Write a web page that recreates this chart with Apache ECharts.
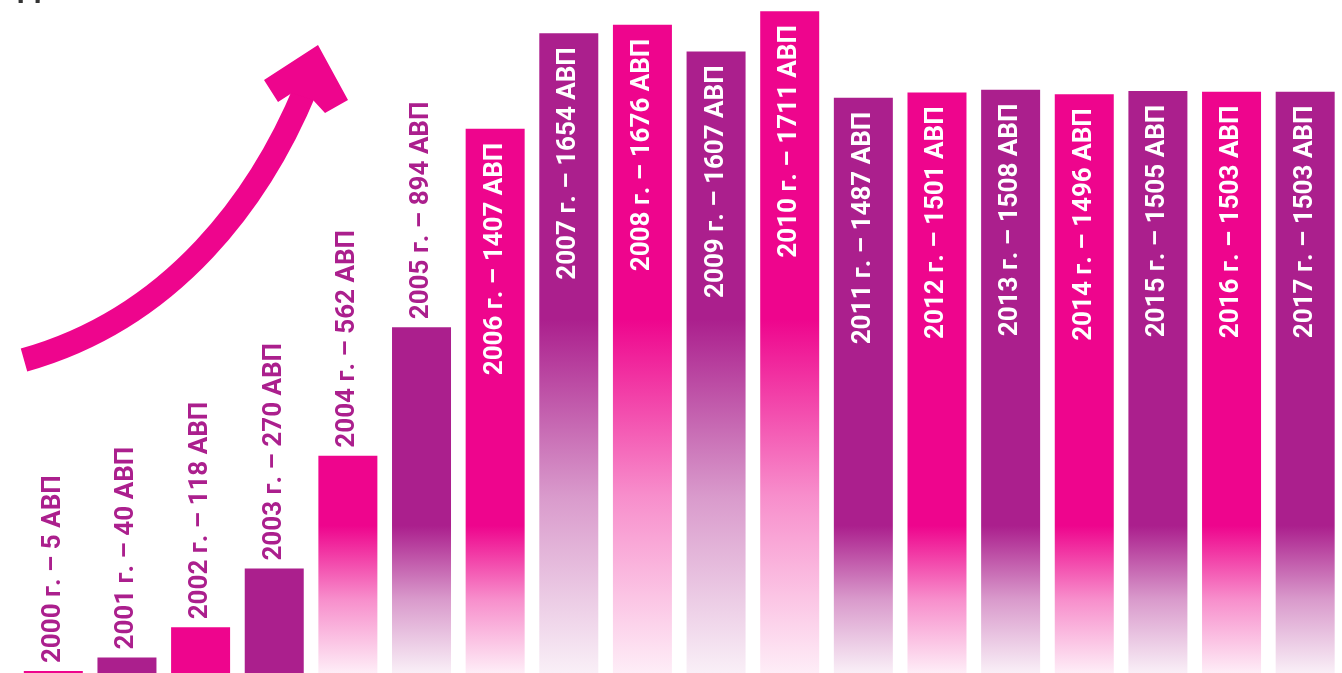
<!DOCTYPE html>
<html>
<head>
<meta charset="utf-8">
<script src="https://cdn.jsdelivr.net/npm/echarts@6/dist/echarts.min.js"></script>
<style>
html,body{margin:0;padding:0;background:#fff;}
#chart{width:1342px;height:673px;}
</style>
</head>
<body>
<div id="chart"></div>
<script>
// ---- data ----
var years = ['2000','2001','2002','2003','2004','2005','2006','2007','2008','2009','2010','2011','2012','2013','2014','2015','2016','2017'];
var values = [5, 40, 118, 270, 562, 894, 1407, 1654, 1676, 1607, 1711, 1487, 1501, 1508, 1496, 1505, 1503, 1503];
var unitText = 'АВП';
var yearSuffix = 'г.';

// ---- style ----
var PINK = '#ee058d';
var PURPLE = '#ab1f8d';
var longFadeYears = ['2007','2008','2009','2010'];
var FADE_SHORT = 381;   // value level below which bars fade
var FADE_LONG = 915;
var INSIDE_MIN = 1000;  // labels inside bars above this value

function rgba(hex, a){
  var r = parseInt(hex.substr(1,2),16), g = parseInt(hex.substr(3,2),16), b = parseInt(hex.substr(5,2),16);
  return 'rgba(' + r + ',' + g + ',' + b + ',' + a + ')';
}

var barData = values.map(function(v, i){
  var base = (i % 2 === 0) ? PINK : PURPLE;
  var fadeV = longFadeYears.indexOf(years[i]) >= 0 ? FADE_LONG : FADE_SHORT;
  var color = base;
  if (v > fadeV) {
    var off = (v - fadeV) / v;
    color = new echarts.graphic.LinearGradient(0, 0, 0, 1, [
      {offset: 0, color: base},
      {offset: off, color: base},
      {offset: off + (1 - off) * 0.5, color: rgba(base, 0.45)},
      {offset: 1, color: rgba(base, 0.07)}
    ]);
  }
  var inside = v > INSIDE_MIN;
  return {
    value: v,
    itemStyle: {color: color},
    label: inside ? {
      position: 'insideTop', distance: 14, rotate: 90, align: 'right', verticalAlign: 'middle', color: '#fff'
    } : {
      position: 'top', distance: 8, rotate: 90, align: 'left', verticalAlign: 'middle', color: PURPLE
    }
  };
});

var chart = echarts.init(document.getElementById('chart'), null, {renderer: 'canvas'});
chart.setOption({
  backgroundColor: '#fff',
  animation: false,
  grid: {left: 16.5, width: 1334, top: 0, height: 675, containLabel: false},
  xAxis: {type: 'category', data: years, show: false},
  yAxis: {type: 'value', min: 0, max: 1740, show: false},
  graphic: [
    {type: 'text', left: 18, top: -25, style: {text: 'Д', fontSize: 30, fontWeight: 'bold', fontFamily: 'Roboto', fill: '#333'}},
    {type: 'bezierCurve',
     shape: {x1: 24, y1: 360, cpx1: 174, cpy1: 318, cpx2: 261, cpy2: 197, x2: 306, y2: 88},
     style: {stroke: PINK, lineWidth: 24, fill: null, lineCap: 'butt'}},
    {type: 'polygon',
     shape: {points: [[264,80],[318,45],[348,100],[325,113],[313,100],[292,93],[278,102]]},
     style: {fill: PINK}}
  ],
  series: [{
    type: 'bar',
    data: barData,
    barWidth: 59,
    label: {
      show: true,
      fontFamily: 'Roboto',
      fontWeight: 'bold',
      fontSize: 26,
      formatter: function(p){ return p.name + ' ' + yearSuffix + ' – ' + p.value + ' ' + unitText; }
    }
  }]
});
</script>
</body>
</html>
